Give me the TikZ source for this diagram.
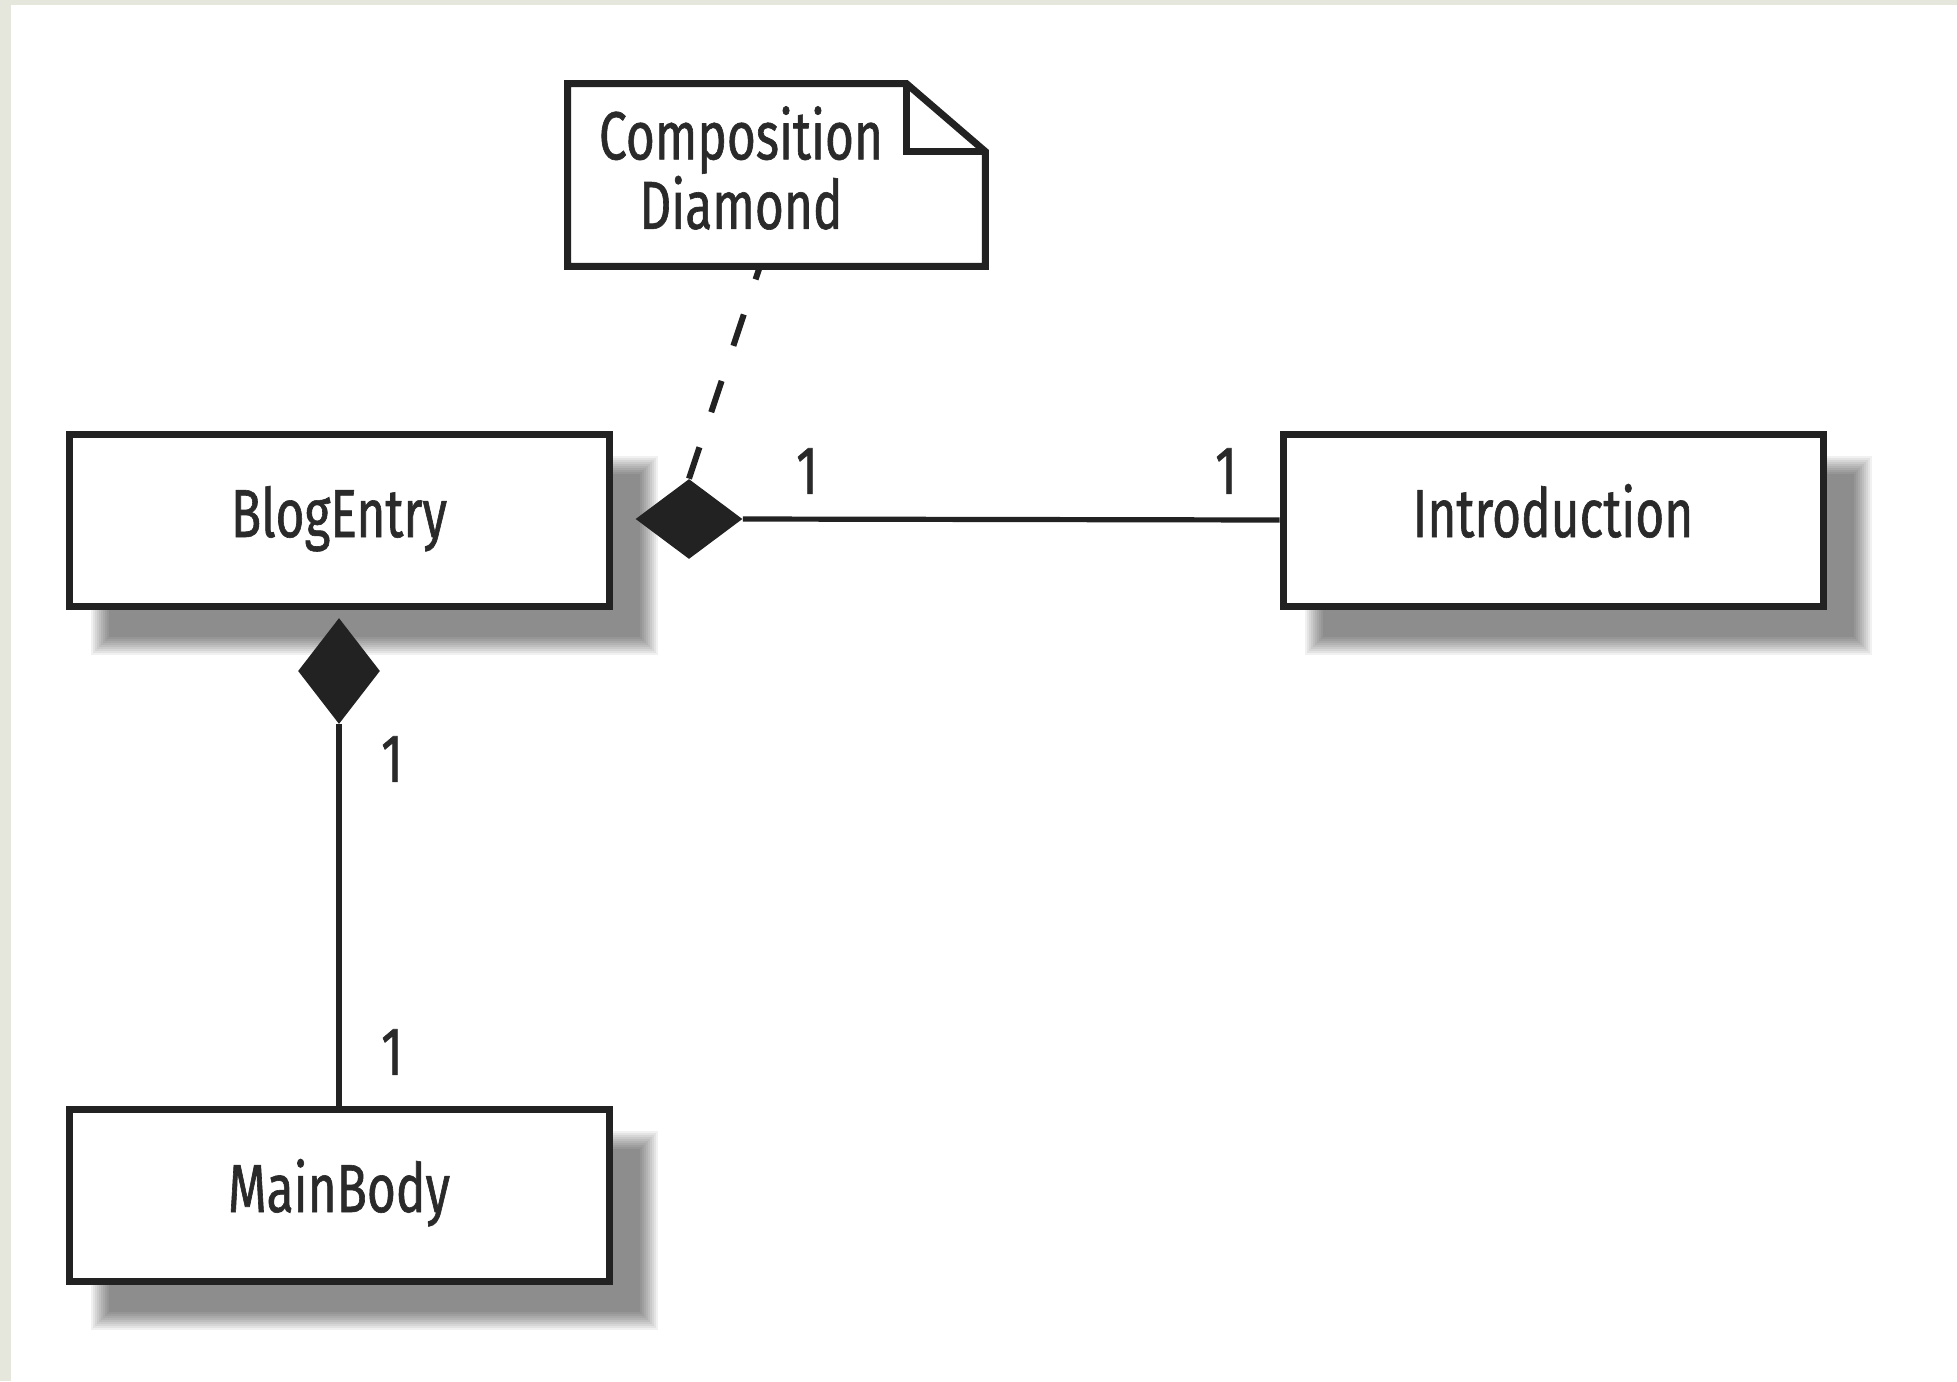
\documentclass[tikz,border=0pt]{standalone}
\usepackage{fontspec}
\setmainfont{Fira Sans}[FakeStretch=0.73, FakeBold=0.9]
\usetikzlibrary{shapes.geometric,calc,backgrounds}
\definecolor{ink}{HTML}{222222}
\definecolor{txt}{HTML}{2A2A2A}
\definecolor{paper}{HTML}{E5E7DC}
\newcommand\blurshadow[1]{%
  \foreach \k in {0,...,9}{%
    \pgfmathsetmacro\dd{10-2*\k}%
    \fill[black,opacity=0.056] ($(#1.north west)+(35-\dd,35-\dd)$) rectangle ($(#1.south east)+(35+\dd,35+\dd)$);
  }}
\begin{document}
\begin{tikzpicture}[x=0.5pt,y=-0.5pt,
  umlclass/.style={draw=ink, line width=3.5pt, fill=white, rectangle,
    minimum width=270pt, minimum height=86pt, inner sep=0pt,
    text height=24pt, text depth=7pt,
    font=\fontsize{34}{40}\selectfont, text=txt},
  comp/.style={diamond, fill=ink, draw=none, inner sep=0pt},
  link/.style={draw=ink, line width=2.6pt},
  mult/.style={font=\fontsize{34}{40}\selectfont, text=txt, inner sep=0pt},
  notedash/.style={draw=ink, line width=3pt, dash pattern=on 16.5pt off 18.5pt},
  noteline/.style={draw=ink, line width=3.5pt, line join=miter},
]
\useasboundingbox (0,0) rectangle (1957,1381);

% class boxes
\node[umlclass] (blog)  at (339,520)  {BlogEntry};
\node[umlclass] (intro) at (1553,520) {Introduction};
\node[umlclass] (main)  at (339,1195) {MainBody};

% background and shadows
\begin{scope}[on background layer]
  \fill[white] (0,0) rectangle (1957,1381);
  \fill[paper] (0,0) rectangle (11,1381);
  \fill[paper] (0,0) rectangle (1957,5);
  \blurshadow{blog}
  \blurshadow{intro}
  \blurshadow{main}
\end{scope}

% composition diamonds
\node[comp, minimum width=53.5pt, minimum height=40pt] (d1) at (689,519) {};
\node[comp, minimum width=41pt, minimum height=53pt] (d2) at (339,671) {};

% connectors
\draw[link] (d1.east) -- (intro.west);
\draw[link] (d2.south) -- (main.north);

% note
\node[minimum width=208.5pt, minimum height=91pt, inner sep=0pt] (note) at (776.5,175) {};
\coordinate (notefoot) at (760,266);
\draw[notedash] (d1.north) -- (notefoot);
\draw[noteline, fill=white] (note.south west) -- (note.north west)
  -- ($(note.north east)+(-79,0)$) -- ($(note.north east)+(0,68)$)
  -- (note.south east) -- cycle;
\draw[noteline] ($(note.north east)+(-79,0)$) -- ($(note.north east)+(-79,68)$)
  -- ($(note.north east)+(0,68)$);
\node[mult, align=center, font=\fontsize{34}{32.5}\selectfont] (notetext) at (741,168) {Composition\\Diamond};

% multiplicities
\node[mult] (m1) at (807,471)  {1};
\node[mult] (m2) at (1226,471) {1};
\node[mult] (m3) at (392,759)  {1};
\node[mult] (m4) at (392,1052) {1};
\end{tikzpicture}
\end{document}
